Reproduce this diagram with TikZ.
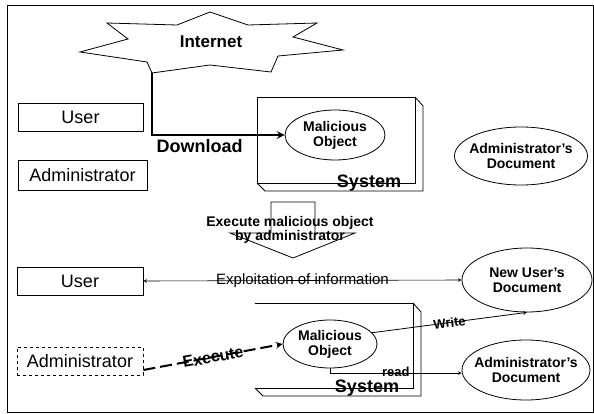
\documentclass[tikz,border=0pt]{standalone}
\usepackage{fontspec}
\setmainfont{Liberation Sans}
\usetikzlibrary{shapes.geometric}
\newcommand{\sysbox}[4] {
    \draw[line width=0.8pt] (#1,#2) -- (#3,#2) -- (#3,#4) -- (#1,#4);
    \draw[line width=0.8pt] (#3,#2) -- ({#3+8},{#2+9}) -- ({#3+8},{#4+8})
        -- ({#1+8},{#4+8}) -- (#1,#4);
    \node[inner sep=0.5pt,font=\fontsize{18}{20}\selectfont\bfseries]
        at ({#3-46},{#4}) {System};
}
\tikzset{
    role/.style={draw,line width=0.8pt,minimum height=28,inner sep=0,
        font=\fontsize{18}{20}\selectfont},
    blob/.style={draw,ellipse,line width=0.8pt,inner xsep=-8pt,inner ysep=0,
        align=center,font=\fontsize{14}{15}\selectfont\bfseries},
}
\begin{document}
\begin{tikzpicture}[x=1pt,y=-1pt]
    \useasboundingbox (0,0) rectangle (594,414);
    \draw[line width=0.8pt] (7,5) rectangle (593,412);
    \draw[line width=0.8pt] (107,23) -- (177,25) -- (210,12) -- (248,25) -- (317,23)
        -- (293,37) -- (343,50) -- (278,56) -- (271,72) -- (210,65) -- (152,73)
        -- (147,62) -- (80,52) -- (128,39) -- cycle;
    \node[font=\fontsize{17}{20}\selectfont\bfseries] (internet) at (211,42) {Internet};
    \coordinate (dltip) at (152,73);
    \node[role,minimum width=125] (userA) at (80.5,117.5) {User};
    \node[role,minimum width=129,minimum height=30] (adminA) at (82.5,175) {Administrator};
    \node[role,minimum width=126] (userB) at (80,281) {User};
    \node[role,dashed,minimum width=126] (adminB) at (80,361) {Administrator};
    \sysbox{257}{97}{415}{183}
    \draw[line width=0.8pt] (257,97) -- (257,183);
    \sysbox{255}{303}{413}{388}
    \node[blob,minimum width=100,minimum height=50] (malA) at (335,135) {Malicious\\Object};
    \node[blob,minimum width=133,minimum height=58] (admdocA) at (521,156) {Administrator's\\Document};
    \node[blob,minimum width=94,minimum height=48] (malB) at (330,344) {Malicious\\Object};
    \node[blob,minimum width=130,minimum height=64] (newdoc) at (527,280) {New User's\\Document};
    \node[blob,minimum width=128,minimum height=60] (admdocB) at (526,370) {Administrator's\\Document};
    \draw[line width=2.4pt,-stealth] (dltip) |- (malA.west)
        node[pos=0.68,yshift=-11pt,font=\fontsize{18}{20}\selectfont\bfseries] {Download};
    \draw[line width=0.8pt] (271,202) -- (315,202) -- (315,233) -- (355,233)
        -- (293,258) -- (230,233) -- (271,233) -- cycle;
    \node[align=center,font=\fontsize{14}{14}\selectfont\bfseries] (execnote) at (290,230)
        {Execute malicious object\\by administrator};
    \draw[line width=0.6pt,stealth-stealth] (userB.east) -- (newdoc.west)
        node[midway,font=\fontsize{15}{16}\selectfont] {Exploitation of information};
    \draw[line width=2pt,dash pattern=on 12pt off 5pt,-stealth] ([yshift=-9pt]adminB.east) -- (malB.west)
        node[midway,sloped,font=\fontsize{16}{16}\selectfont\bfseries] {Execute};
    \draw[line width=0.8pt,-stealth] (malB.15) -- (newdoc.south)
        node[midway,sloped,font=\fontsize{13}{13}\selectfont\bfseries] {Write};
    \draw[line width=0.6pt,-stealth] (malB.south) |- ([yshift=-3pt]admdocB.west)
        node[pos=0.75,inner sep=0.5pt,yshift=1pt,font=\fontsize{13}{13}\selectfont\bfseries] {read};
\end{tikzpicture}
\end{document}
